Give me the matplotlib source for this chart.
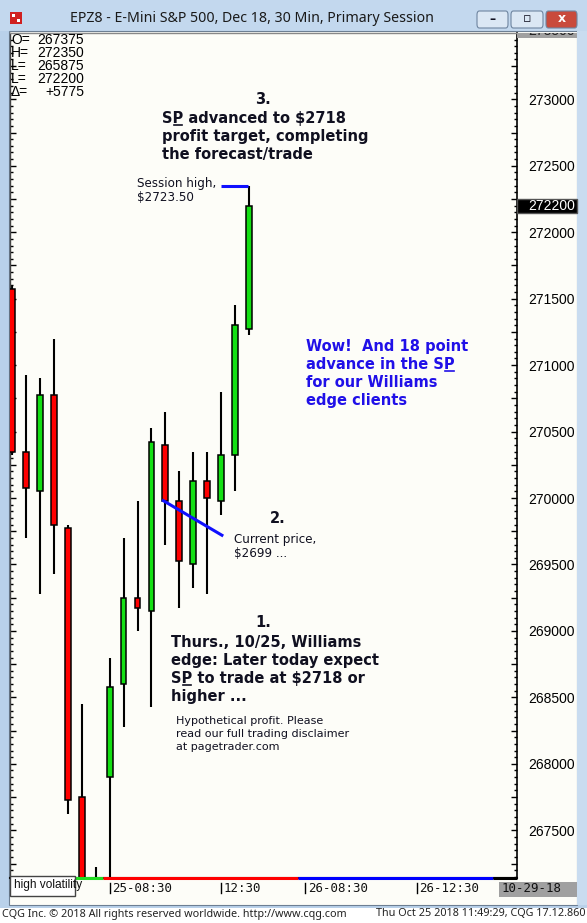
import matplotlib
matplotlib.use("Agg")
import matplotlib.pyplot as plt
from matplotlib.patches import Rectangle, FancyBboxPatch
from matplotlib.ticker import MultipleLocator, FuncFormatter
from matplotlib.transforms import Bbox, IdentityTransform, TransformedBbox

W, H = 587, 923

# 30 min bars, bar 7 is the 25-08:30 bar
opens = [271575, 270350, 270050, 270775, 269775, 267750, 266700, 267900, 268600,
         269250, 269150, 270400, 269975, 269500, 270125, 269975, 270325, 271275]
highs = [271600, 270925, 270900, 271200, 269800, 268450, 267225, 268800, 269700,
         269975, 270525, 270650, 270200, 270350, 270350, 270800, 271450, 272350]
lows = [270325, 269700, 269275, 269425, 267625, 266450, 265875, 266950, 268275,
        269000, 268425, 269650, 269175, 269325, 269275, 269875, 270050, 271225]
closes = [270350, 270075, 270775, 269800, 267725, 266700, 266400, 268575, 269250,
          269175, 270425, 269975, 269525, 270125, 270000, 270325, 271300, 272200]

time_ticks = [7, 15, 21, 29]
time_labels = ["25-08:30", "12:30", "26-08:30", "26-12:30"]

session_edges = [-0.14, 6.5, 20.5, 34.5, 36.2]
session_colours = ["#22dd22", "#ff0000", "#0000ff", "#000000"]

readout_labels = ["O=", "H=", "L=", "L=", "Δ="]
readout_values = ["267375", "272350", "265875", "272200", "+5775"]

last_price = 272200
high_line_x = [15.0, 16.95]
high_line_y = [272350, 272350]
current_line_x = [10.85, 15.05]
current_line_y = [269980, 269720]

PANEL = "#fdfdf8"
BLUE_FRAME = "#b9d1ea"
INK = "#101020"

fig = plt.figure(figsize=(W / 100, H / 100), dpi=100)
fig.patch.set_facecolor(BLUE_FRAME)


def fx(x):
    return x / W


def fy(y):
    return 1 - y / H


def box(x0, y0, x1, y1, **kw):
    r = Rectangle((fx(x0), fy(y1)), (x1 - x0) / W, (y1 - y0) / H,
                  transform=fig.transFigure, **kw)
    fig.add_artist(r)
    return r


def label(x, y, s, **kw):
    return fig.text(fx(x), fy(y), s, **kw)


# window chrome
box(0, 0, W, 31, facecolor="#c3d8ee", edgecolor="none", zorder=-2)
box(9, 31, 577, 905, facecolor=PANEL, edgecolor="#6d7f93", lw=0.8, zorder=-1)
box(577, 31, 587, 905, facecolor="#c9dcf0", edgecolor="none", zorder=-1)
box(0, 908, W, H, facecolor="white", edgecolor="none", zorder=-1)
box(10, 12, 22, 24, facecolor="#d02020", edgecolor="none", zorder=2)
box(12, 14, 15, 17, facecolor="white", edgecolor="none", zorder=3)
box(17, 19, 20, 22, facecolor="white", edgecolor="none", zorder=3)

buttons = [(477, 508, "#dbe7f4", "–", INK), (511, 543, "#dbe7f4", "▫", INK),
           (546, 577, "#c94a3c", "x", "white")]
for bx0, bx1, bcol, glyph, gcol in buttons:
    fig.add_artist(FancyBboxPatch((fx(bx0), fy(28)), (bx1 - bx0) / W, 17 / H,
                                  boxstyle="round,pad=0,rounding_size=0.004",
                                  transform=fig.transFigure, facecolor=bcol,
                                  edgecolor="#6f85a0", lw=0.8, zorder=2))
    label((bx0 + bx1) / 2, 19, glyph, ha="center", va="center", color=gcol,
          fontsize=9, fontweight="bold", zorder=3)

label(252, 18, "EPZ8 - E-Mini S&P 500, Dec 18, 30 Min, Primary Session",
      ha="center", va="center", fontsize=10.2, family="Noto Sans", color="#1a1a1a")

# price chart
ax = fig.add_axes([fx(10), fy(878), (517 - 10) / W, (878 - 33) / H])
ax.set_facecolor(PANEL)
ax.set_xlim(-0.14, 36.2)
ax.set_ylim(267141, 273499)

for i, (o, h, l, c) in enumerate(zip(opens, highs, lows, closes)):
    ax.vlines(i, l, h, color="black", lw=1.5, zorder=2)
    colour = "#14e014" if c >= o else "#ff0000"
    ax.bar(i, abs(c - o), bottom=min(o, c), width=0.42, color=colour,
           edgecolor="black", lw=1.1, zorder=3)

ax.plot(high_line_x, high_line_y, color="#1010ff", lw=2.2, zorder=4,
        solid_capstyle="butt")
ax.plot(current_line_x, current_line_y, color="#1010ff", lw=2.2, zorder=4)

ax.yaxis.set_major_locator(MultipleLocator(250))
ax.yaxis.set_minor_locator(MultipleLocator(50))
ax.yaxis.set_major_formatter(FuncFormatter(
    lambda v, p: f"{int(round(v))}" if round(v) % 500 == 0 and v < 273400 else ""))
ax.tick_params(axis="y", which="major", direction="in", length=4, width=1,
               left=True, right=True, labelleft=False, labelright=True,
               labelsize=10, pad=8, labelfontfamily="Liberation Sans")
ax.tick_params(axis="y", which="minor", direction="in", length=2, width=1,
               left=True, right=True)
ax.set_xticks([])
for side, col, lw in [("left", "#444444", 1), ("top", "#888888", 1),
                      ("right", "black", 1.2), ("bottom", "black", 1.5)]:
    ax.spines[side].set_color(col)
    ax.spines[side].set_linewidth(lw)

# session colour strip along the time axis
xt = ax.get_xaxis_transform()
for k, col in enumerate(session_colours):
    ax.plot([session_edges[k], session_edges[k + 1]], [0, 0], transform=xt,
            color=col, lw=2.2, clip_on=False, solid_capstyle="butt", zorder=5)

for pos, txt in zip(time_ticks, time_labels):
    ax.plot([pos, pos], [-5 / 845, -15 / 845], transform=xt, color="black",
            lw=1, clip_on=False)
    ax.annotate(txt, xy=(pos, 0), xycoords=xt, xytext=(2, -7.5),
                textcoords="offset points", ha="left", va="center",
                fontsize=9, family="DejaVu Sans Mono", color="#111111")

# last price marker and cut top label
yt = ax.get_yaxis_transform()
ax.add_patch(Rectangle((1.0, last_price - 52), 60 / 507, 104, transform=yt,
                       facecolor="black", edgecolor="#555555", clip_on=False,
                       zorder=6))
ax.text(1.0 + 11 / 507, last_price, f"{last_price}", transform=yt, color="white",
        fontsize=10, family="Liberation Sans", va="center", ha="left",
        clip_on=False, zorder=7)
box(517, 33, 577, 38, facecolor="#a0a0a0", edgecolor="none", zorder=5)
top_lbl = label(528, 31, "273500", ha="left", va="center", fontsize=10,
                family="Liberation Sans", color="#222222", zorder=6)
top_lbl.set_clip_box(TransformedBbox(Bbox.from_extents(517, H - 38, 577, H - 33),
                                     IdentityTransform()))
top_lbl.set_clip_on(True)

# readout
for k, (lab, val) in enumerate(zip(readout_labels, readout_values)):
    label(11, 40 + 13 * k, lab, ha="left", va="center", fontsize=10,
          family="Liberation Sans", color="black")
    label(84, 40 + 13 * k, val, ha="right", va="center", fontsize=10,
          family="Liberation Sans", color="black")

# bottom boxes
box(10, 876, 75, 896, facecolor="white", edgecolor="#444444", lw=1, zorder=5)
label(14, 885, "high volatility", ha="left", va="center", fontsize=8.6,
      family="Liberation Sans", color="#111111", zorder=6)
box(499, 882, 577, 897, facecolor="#a0a0a0", edgecolor="none", zorder=5)
label(502, 889, "10-29-18", ha="left", va="center", fontsize=9,
      family="DejaVu Sans Mono", color="#111111", zorder=6)

# footer
label(2, 914, "CQG Inc. © 2018 All rights reserved worldwide. http://www.cqg.com",
      ha="left", va="center", fontsize=7.8, family="Noto Sans", color="#222222")
label(585, 914, "Thu Oct 25 2018 11:49:29, CQG 17.12.860", ha="right",
      va="center", fontsize=7.8, family="Noto Sans", color="#222222")

renderer = fig.canvas.get_renderer()


def text_width(s, **kw):
    t = fig.text(0, 0, s, **kw)
    w = t.get_window_extent(renderer).width
    t.remove()
    return w


def bold_lines(x, y0, lines, colour, size=10.5, underline_sp=None):
    kw = dict(fontsize=size, fontweight="bold", family="DejaVu Sans")
    for k, line in enumerate(lines):
        y = y0 + 18 * k
        label(x, y, line, ha="left", va="baseline", color=colour, **kw)
        if underline_sp == k:
            start = line.index("SP")
            pre = text_width(line[:start] + "S", **kw)
            full = text_width(line[:start] + "SP", **kw)
            fig.add_artist(plt.Line2D([fx(x + pre + 1), fx(x + full - 1)],
                                      [fy(y + 2), fy(y + 2)],
                                      transform=fig.transFigure, color=colour,
                                      lw=1.2))


def small_lines(x, y0, lines, step=13, size=8):
    for k, line in enumerate(lines):
        label(x, y0 + step * k, line, ha="left", va="baseline", fontsize=size,
              family="DejaVu Sans", color=INK)


label(263, 104, "3.", ha="center", va="baseline", fontsize=10.5,
      fontweight="bold", color=INK)
bold_lines(162, 123, ["SP advanced to $2718", "profit target, completing",
                      "the forecast/trade"], INK, underline_sp=0)
small_lines(137, 187, ["Session high,", "$2723.50"], step=14, size=8.6)

bold_lines(306, 351, ["Wow!  And 18 point", "advance in the SP",
                      "for our Williams", "edge clients"], "#2010e8",
           underline_sp=1)

label(278, 523, "2.", ha="center", va="baseline", fontsize=10.5,
      fontweight="bold", color=INK)
small_lines(234, 543, ["Current price,", "$2699 ..."], step=14, size=8.6)

label(263, 627, "1.", ha="center", va="baseline", fontsize=10.5,
      fontweight="bold", color=INK)
bold_lines(171, 647, ["Thurs., 10/25, Williams", "edge: Later today expect",
                      "SP to trade at $2718 or", "higher ..."], INK,
           underline_sp=2)
small_lines(176, 724, ["Hypothetical profit. Please",
                       "read our full trading disclaimer",
                       "at pagetrader.com"], step=13, size=8)

fig.savefig("out.png", dpi=100, facecolor=fig.get_facecolor())
